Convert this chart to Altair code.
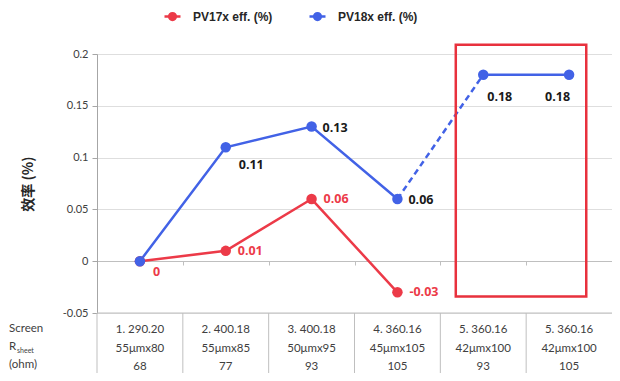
import altair as alt
import pandas as pd

# ---------------- data ----------------
idx = [0, 1, 2, 3, 4, 5]
series = ["PV17x eff. (%)", "PV18x eff. (%)"]
pv17 = [0.0, 0.01, 0.06, -0.03]
pv18 = [0.0, 0.11, 0.13, 0.06, 0.18, 0.18]
screen = ["1. 290.20", "2. 400.18", "3. 400.18", "4. 360.16", "5. 360.16", "5. 360.16"]
mesh = ["55μmx80", "55μmx85", "50μmx95", "45μmx105", "42μmx100", "42μmx100"]
rsheet = ["68", "77", "93", "105", "93", "105"]
y_ticks = [-0.05, 0.0, 0.05, 0.1, 0.15, 0.2]
x_bounds = [-0.5, 0.5, 1.5, 2.5, 3.5, 4.5]
x_ticks = [0.5, 1.5, 2.5, 3.5, 4.5, 5.5]
box = {"x0": [3.68], "x1": [5.2], "y0": [-0.034], "y1": [0.209]}

RED = "#ec3a48"
BLUE = "#4262e6"
GRAY_TXT = "#404040"
FONT = "Lato"

# ---------------- frames ----------------
red_df = pd.DataFrame({"idx": idx[:len(pv17)], "val": pv17, "s": series[0]})
blue_df = pd.DataFrame({"idx": idx, "val": pv18, "s": series[1]})
blue_df["part"] = ["a" if i <= 3 else "b" for i in idx]
table_df = pd.DataFrame({"idx": idx, "screen": screen, "mesh": mesh, "rs": rsheet})
bounds_df = pd.DataFrame({"b": x_bounds})
box_df = pd.DataFrame(box)

lbl_expr = "datum.val < 0 ? '-' + format(-datum.val, '.2~f') : format(datum.val, '.2~f')"

color_scale = alt.Scale(domain=series, range=[RED, BLUE])
xs = alt.Scale(domain=[-0.5, 5.5], nice=False, zero=False)
ys = alt.Scale(domain=[-0.05, 0.2], nice=False, zero=False)

legend_path = ("M-1,0L1,0"
               "M-0.42,0a0.42,0.42 0 1,0 0.84,0a0.42,0.42 0 1,0 -0.84,0"
               "M-0.16,0a0.16,0.16 0 1,0 0.32,0a0.16,0.16 0 1,0 -0.32,0")

base_x = alt.X(
    "idx:Q", scale=xs,
    axis=alt.Axis(values=x_ticks, labels=False, title=None, grid=False, offset=-52,
                  tickSize=4, domainColor="#bfbfbf", tickColor="#bfbfbf", domainWidth=1),
)
base_y = alt.Y(
    "val:Q", scale=ys,
    axis=alt.Axis(values=y_ticks, labelExpr="datum.value < 0 ? '-' + format(-datum.value, '.2~f') : format(datum.value, '.2~f')",
                  title="效率 (%)", titleFont="Noto Sans CJK SC", titleFontSize=14, titleFontWeight="bold",
                  titleColor="#262626", titleAngle=270, titleX=-69, titleY=129.5, titleAlign="center",
                  titleBaseline="middle", labelFont=FONT, labelFontSize=11, labelColor=GRAY_TXT,
                  labelPadding=4, tickSize=5, tickColor="#a6a6a6", domainColor="#a6a6a6",
                  gridColor="#dedede", grid=True),
)

axes = alt.Chart(red_df).mark_point(opacity=0).encode(x=base_x, y=base_y)

border = alt.Chart(pd.DataFrame({"v": [-0.05]})).mark_rule(color="#bfbfbf").encode(
    y=alt.Y("v:Q", scale=ys))

vlines = alt.Chart(bounds_df).mark_rule(color="#bfbfbf").encode(
    x=alt.X("b:Q", scale=xs), y=alt.value(259), y2=alt.value(322))

red_line = alt.Chart(red_df).mark_line(strokeWidth=2.5).encode(
    x=alt.X("idx:Q", scale=xs), y=alt.Y("val:Q", scale=ys),
    color=alt.Color("s:N", scale=color_scale,
                    legend=alt.Legend(title=None, orient="none", direction="horizontal",
                                      legendX=66, legendY=-47, symbolType=legend_path,
                                      symbolSize=256, symbolStrokeWidth=2.5,
                                      labelFont="Liberation Sans", labelFontSize=12,
                                      labelFontWeight="bold", labelColor="#262626",
                                      labelOffset=11, columnPadding=31, padding=0)))

blue_line = alt.Chart(blue_df).mark_line(strokeWidth=2.5).encode(
    x=alt.X("idx:Q", scale=xs), y=alt.Y("val:Q", scale=ys), detail="part:N",
    color=alt.Color("s:N", scale=color_scale, legend=None))

blue_dash = alt.Chart(blue_df).transform_filter(
    "datum.idx >= 3 && datum.idx <= 4").mark_line(strokeWidth=2.5, strokeDash=[6, 4]).encode(
    x=alt.X("idx:Q", scale=xs), y=alt.Y("val:Q", scale=ys),
    color=alt.Color("s:N", scale=color_scale, legend=None))

red_pts = alt.Chart(red_df).mark_circle(size=110, opacity=1).encode(
    x=alt.X("idx:Q", scale=xs), y=alt.Y("val:Q", scale=ys),
    color=alt.Color("s:N", scale=color_scale, legend=None))
blue_pts = alt.Chart(blue_df).mark_circle(size=110, opacity=1).encode(
    x=alt.X("idx:Q", scale=xs), y=alt.Y("val:Q", scale=ys),
    color=alt.Color("s:N", scale=color_scale, legend=None))


def labels(df, cond, color, dx, dy, align="left"):
    return alt.Chart(df).transform_filter(cond).transform_calculate(lbl=lbl_expr).mark_text(
        align=align, baseline="middle", dx=dx, dy=dy, font="Open Sans", fontSize=12.5,
        fontWeight="bold", color=color).encode(
        x=alt.X("idx:Q", scale=xs), y=alt.Y("val:Q", scale=ys), text="lbl:N")


red_lbl0 = labels(red_df, "datum.idx == 0", RED, 13, 11)
red_lbl = labels(red_df, "datum.idx >= 1", RED, 12, 0)
blue_lbl1 = labels(blue_df, "datum.idx == 1", "#1a1a1a", 13, 18)
blue_lbl23 = labels(blue_df, "datum.idx == 2 || datum.idx == 3", "#1a1a1a", 11, 1)
blue_lbl4 = labels(blue_df, "datum.idx == 4", "#1a1a1a", 4, 22)
blue_lbl5 = labels(blue_df, "datum.idx == 5", "#1a1a1a", 1, 22, align="right")

box_mark = alt.Chart(box_df).mark_rect(fill=None, stroke="#e8313d", strokeWidth=2.5, fillOpacity=0).encode(
    x=alt.X("x0:Q", scale=xs), x2="x1:Q", y=alt.Y("y0:Q", scale=ys), y2="y1:Q")


def trow(field, ypix):
    return alt.Chart(table_df).mark_text(font=FONT, fontSize=11.5, color=GRAY_TXT, baseline="middle").encode(
        x=alt.X("idx:Q", scale=xs), y=alt.value(ypix), text=f"{field}:N")


row1 = trow("screen", 276)
row2 = trow("mesh", 295)
row3 = trow("rs", 313)


def lab(txt, xpix, ypix, size=11.5):
    return alt.Chart(table_df.head(1)).mark_text(text=txt, font=FONT, fontSize=size, color=GRAY_TXT,
                                                 align="left", baseline="middle").encode(
        x=alt.value(xpix), y=alt.value(ypix))


lab1 = lab("Screen", -88, 275)
lab2 = lab("R", -88, 293)
lab2b = lab("sheet", -80, 297, size=7)
lab3 = lab("(ohm)", -88, 311)

chart = alt.layer(
    axes, border, vlines, red_line, blue_line, blue_dash, red_pts, blue_pts,
    red_lbl0, red_lbl, blue_lbl1, blue_lbl23, blue_lbl4, blue_lbl5, box_mark,
    row1, row2, row3, lab1, lab2, lab2b, lab3,
).properties(
    width=515, height=259,
    padding={"left": 89, "top": 46, "right": 0, "bottom": 60},
    autosize="none",
).configure_view(stroke=None).configure(background="white")

chart.save("out.html", embed_options={"renderer": "svg", "actions": False})
